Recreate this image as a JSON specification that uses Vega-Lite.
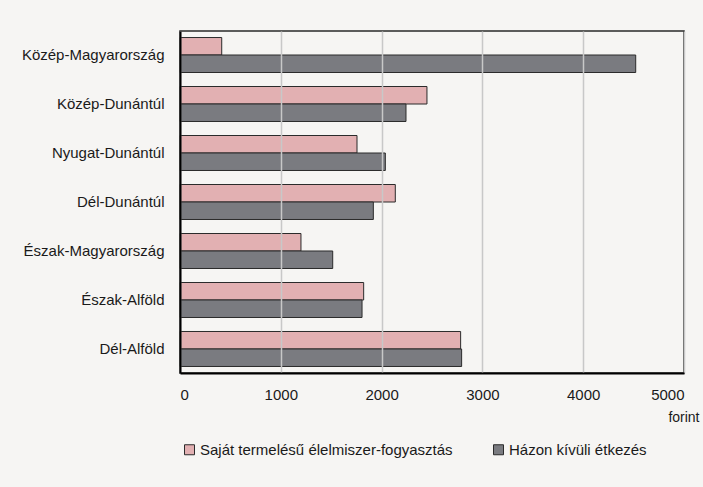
{
  "$schema": "https://vega.github.io/schema/vega-lite/v6.json",
  "width": 504,
  "height": 342,
  "autosize": {"type": "none"},
  "padding": {"left": 180, "top": 31, "right": 19, "bottom": 114},
  "background": "#f6f5f3",
  "config": {
    "font": "Liberation Sans",
    "view": {"stroke": "#2a2a2a", "strokeWidth": 1.5, "fill": "#f6f5f3"}
  },
  "data": {
    "values": [
      {"region": "Közép-Magyarország", "series": "Saját termelésű élelmiszer-fogyasztás", "value": 414},
      {"region": "Közép-Magyarország", "series": "Házon kívüli étkezés", "value": 4521},
      {"region": "Közép-Dunántúl", "series": "Saját termelésű élelmiszer-fogyasztás", "value": 2450},
      {"region": "Közép-Dunántúl", "series": "Házon kívüli étkezés", "value": 2242},
      {"region": "Nyugat-Dunántúl", "series": "Saját termelésű élelmiszer-fogyasztás", "value": 1756},
      {"region": "Nyugat-Dunántúl", "series": "Házon kívüli étkezés", "value": 2037},
      {"region": "Dél-Dunántúl", "series": "Saját termelésű élelmiszer-fogyasztás", "value": 2136},
      {"region": "Dél-Dunántúl", "series": "Házon kívüli étkezés", "value": 1918},
      {"region": "Észak-Magyarország", "series": "Saját termelésű élelmiszer-fogyasztás", "value": 1200},
      {"region": "Észak-Magyarország", "series": "Házon kívüli étkezés", "value": 1515},
      {"region": "Észak-Alföld", "series": "Saját termelésű élelmiszer-fogyasztás", "value": 1822},
      {"region": "Észak-Alföld", "series": "Házon kívüli étkezés", "value": 1806},
      {"region": "Dél-Alföld", "series": "Saját termelésű élelmiszer-fogyasztás", "value": 2784},
      {"region": "Dél-Alföld", "series": "Házon kívüli étkezés", "value": 2794}
    ]
  },
  "mark": {"type": "bar", "stroke": "#2b2b2b", "strokeWidth": 1},
  "encoding": {
    "y": {
      "field": "region",
      "type": "nominal",
      "sort": null,
      "scale": {"paddingInner": 0.286, "paddingOuter": 0.133},
      "axis": {
        "title": null,
        "ticks": false,
        "zindex": 1,
        "domainColor": "#000000",
        "domainWidth": 2,
        "labelFont": "Liberation Sans",
        "labelFontSize": 15,
        "labelColor": "#1a1a1a",
        "labelPadding": 16
      }
    },
    "yOffset": {
      "field": "series",
      "type": "nominal",
      "sort": ["Saját termelésű élelmiszer-fogyasztás", "Házon kívüli étkezés"],
      "scale": {"paddingInner": 0, "paddingOuter": 0}
    },
    "x": {
      "field": "value",
      "type": "quantitative",
      "scale": {"domain": [0, 5000], "nice": false},
      "axis": {
        "values": [0, 1000, 2000, 3000, 4000, 5000],
        "format": "d",
        "title": "forint",
        "titleFont": "Liberation Sans",
        "titleFontSize": 14,
        "titleFontWeight": "normal",
        "titleColor": "#1a1a1a",
        "titleAlign": "right",
        "titleBaseline": "middle",
        "titleX": 519,
        "titleY": 44,
        "ticks": false,
        "zindex": 1,
        "domainColor": "#000000",
        "domainWidth": 2,
        "grid": true,
        "gridColor": "#c8c8c8",
        "gridWidth": 1.5,
        "labelFont": "Liberation Sans",
        "labelFontSize": 15,
        "labelColor": "#1a1a1a",
        "labelPadding": 14
      }
    },
    "color": {
      "field": "series",
      "type": "nominal",
      "scale": {
        "domain": ["Saját termelésű élelmiszer-fogyasztás", "Házon kívüli étkezés"],
        "range": ["#e2b0b2", "#7a7b80"]
      },
      "legend": {
        "title": null,
        "orient": "none",
        "direction": "horizontal",
        "legendX": 2,
        "legendY": 411,
        "symbolType": "square",
        "symbolSize": 100,
        "symbolStrokeColor": "#2b2b2b",
        "symbolStrokeWidth": 1,
        "labelFont": "Liberation Sans",
        "labelFontSize": 15,
        "labelColor": "#1a1a1a",
        "labelOffset": 3,
        "columnPadding": 38,
        "labelLimit": 400
      }
    }
  }
}
